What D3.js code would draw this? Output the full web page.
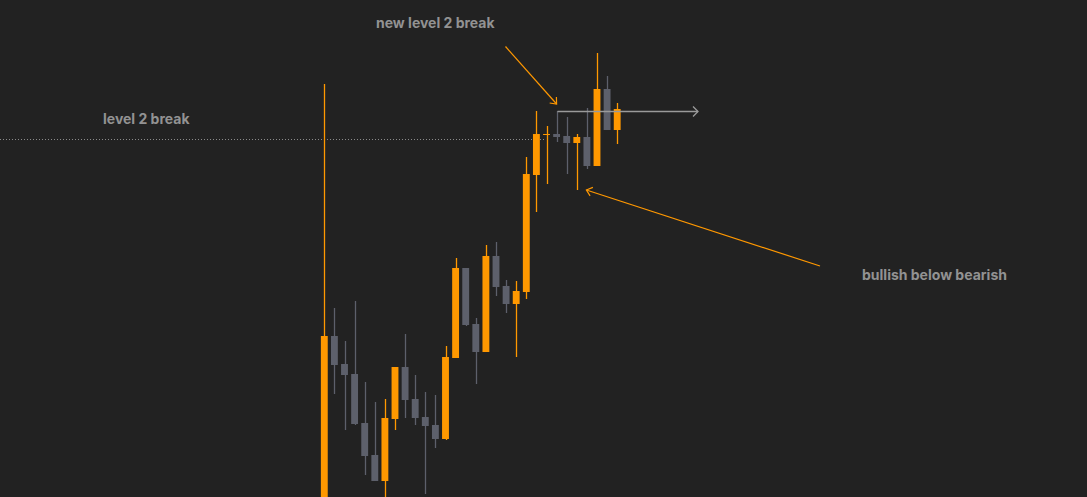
<!DOCTYPE html>
<html>
<head>
<meta charset="utf-8">
<script src="https://cdn.jsdelivr.net/npm/d3@7/dist/d3.min.js"></script>
<style>
  html, body { margin: 0; padding: 0; background: #222222; overflow: hidden; }
  svg { display: block; }
</style>
</head>
<body>
<svg id="chart" width="1087" height="497"></svg>
<script>
// ---- data (price units) ----
const candleIndex = d3.range(1, 31);
const opens  = [-20, 164, 136, 126,  77,  45,  19,  81, 133, 101,  83,  75,  61, 142, 232, 176, 148, 244, 214, 196, 208, 325, 365, 366, 364, 357, 363, 334, 411, 370];
const highs  = [416, 192, 159, 199, 118,  98, 101, 133, 166, 125, 108, 105, 154, 242, 232, 182, 255, 258, 220, 219, 343, 389, 374, 389, 383, 366, 392, 447, 424, 397];
const lows   = [-20, 106,  70,  75,  25,  19, -20,  70,  82,  75,   6,  52,  60, 142, 174, 116, 148, 204, 187, 143, 201, 288, 316, 358, 326, 310, 331, 334, 370, 356];
const closes = [164, 135, 125,  76,  44,  19,  82, 133, 100,  82,  74,  61, 143, 232, 175, 148, 244, 213, 196, 209, 326, 366, 366, 363, 357, 363, 334, 411, 370, 391];

const levelBreak = 361;        // old level 2 break (dotted line)
const newLevelBreak = 389;     // new level 2 break (horizontal ray)
const newLevelStartCandle = 24;

const labels = ["level 2 break", "new level 2 break", "bullish below bearish"];

const W = 1087, H = 497;
const svg = d3.select("#chart");
svg.append("rect").attr("width", W).attr("height", H).attr("fill", "#222222");

const y = d3.scaleLinear().domain([0, 500]).range([500, 0]);
const x = d3.scaleBand().domain(candleIndex).range([319.25, 622.25]).paddingInner(0.32).paddingOuter(0.16);

const UP = "#ff9800", DOWN = "#5d606b";
const candles = candleIndex.map((i, k) => ({ i, o: opens[k], h: highs[k], l: lows[k], c: closes[k] }));

const colorOf = d => (d.c >= d.o ? UP : DOWN);
const cx = i => x(i) + x.bandwidth() / 2;

const defs = svg.append("defs");
defs.append("clipPath").attr("id", "clip").append("rect").attr("width", W).attr("height", H);
const g = svg.append("g").attr("clip-path", "url(#clip)");

// dotted level line
g.append("line")
  .attr("x1", 0).attr("x2", cx(22) + 8)
  .attr("y1", y(levelBreak) + 0.5).attr("y2", y(levelBreak) + 0.5)
  .attr("stroke", "#8a8a8a").attr("stroke-width", 1).attr("stroke-dasharray", "1,2");

// wicks
g.selectAll(".wick").data(candles).join("line")
  .attr("x1", d => Math.round(cx(d.i)) + 0.5).attr("x2", d => Math.round(cx(d.i)) + 0.5)
  .attr("y1", d => y(d.h)).attr("y2", d => y(d.l))
  .attr("stroke", colorOf).attr("stroke-width", 1.3);

// bodies
g.selectAll(".body").data(candles).join("rect")
  .attr("x", d => x(d.i))
  .attr("width", x.bandwidth())
  .attr("y", d => y(Math.max(d.o, d.c)))
  .attr("height", d => Math.max(1, Math.abs(y(d.o) - y(d.c))))
  .attr("fill", colorOf);

// new level ray
const rayY = y(newLevelBreak) + 0.5;
const rayX1 = Math.round(cx(newLevelStartCandle)) + 0.5;
const rayX2 = 698;
g.append("line").attr("x1", rayX1).attr("x2", rayX2).attr("y1", rayY).attr("y2", rayY)
  .attr("stroke", "#9a9a9a").attr("stroke-width", 1.3);
g.append("path").attr("d", `M${rayX2 - 5},${rayY - 5} L${rayX2},${rayY} L${rayX2 - 5},${rayY + 5}`)
  .attr("fill", "none").attr("stroke", "#9a9a9a").attr("stroke-width", 1.3);

// arrows
function arrow(x1, y1, x2, y2) {
  g.append("line").attr("x1", x1).attr("y1", y1).attr("x2", x2).attr("y2", y2)
    .attr("stroke", UP).attr("stroke-width", 1.2);
  const a = Math.atan2(y2 - y1, x2 - x1);
  const len = 7, spread = Math.PI / 4.5;
  const p1 = [x2 - len * Math.cos(a - spread), y2 - len * Math.sin(a - spread)];
  const p2 = [x2 - len * Math.cos(a + spread), y2 - len * Math.sin(a + spread)];
  g.append("path").attr("d", `M${p1[0]},${p1[1]} L${x2},${y2} L${p2[0]},${p2[1]}`)
    .attr("fill", "none").attr("stroke", UP).attr("stroke-width", 1.2);
}
arrow(505.5, 46.5, cx(24), 104);
arrow(820, 266, cx(27) - 0.5, 190);

// labels
const txt = (s, tx, ty) => svg.append("text").text(s)
  .attr("x", tx).attr("y", ty)
  .attr("fill", "#929292").attr("font-family", "Inter, 'Noto Sans', sans-serif")
  .attr("font-weight", 700).attr("font-size", 14);
txt(labels[0], 103, 124);
txt(labels[1], 376, 28);
txt(labels[2], 862, 280);
</script>
</body>
</html>
